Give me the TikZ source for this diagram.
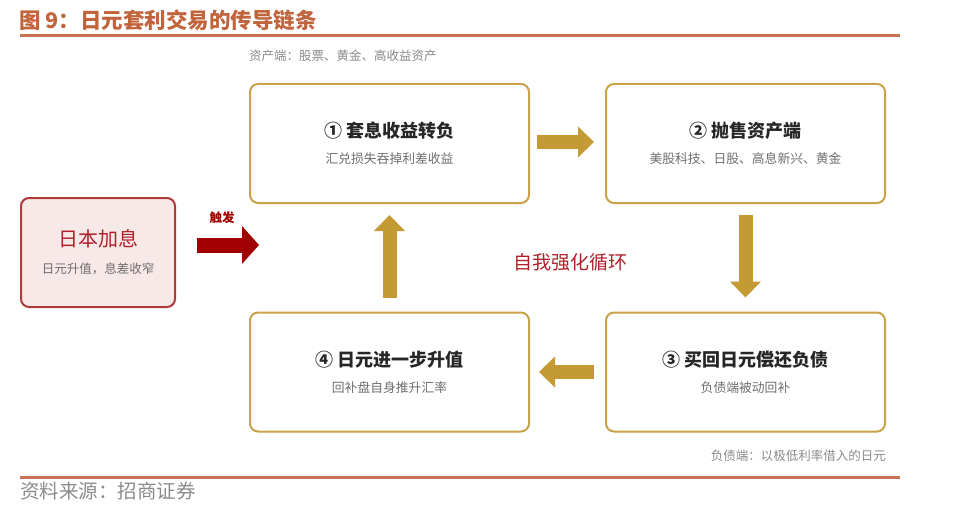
\documentclass[tikz,border=0pt]{standalone}
\usepackage{fontspec}
\setmainfont{Noto Sans CJK SC}
\usetikzlibrary{arrows.meta,
                positioning}
\definecolor{rust}{HTML}{C0643C}
\definecolor{rustline}{HTML}{C8734F}
\definecolor{gold}{HTML}{C9A24A}
\definecolor{goldfill}{HTML}{C49A35}
\definecolor{darkred}{HTML}{A00000}
\definecolor{alarm}{HTML}{B0202A}
\definecolor{pinkfill}{HTML}{F8E9E9}
\definecolor{pinkline}{HTML}{B03A3A}
\definecolor{subgray}{HTML}{6E6E6E}
\definecolor{notegray}{HTML}{8A8A8A}
\newcommand{\steptitle}[1]{{\bfseries\color{black!85}\fontsize{18}{20}\selectfont #1}}
\newcommand{\stepsub}[1]{{\color{subgray}#1}}
\tikzset{block/.style=
   {rectangle,
    draw=gold,
    line width=2pt,
    align=center,
    rounded corners=8pt,
    font=\fontsize{12.8}{26}\selectfont,
    minimum width=279pt,
    minimum height=119pt}}
\tikzset{trigbox/.style=
   {rectangle,
    draw=pinkline,
    fill=pinkfill,
    line width=2pt,
    align=center,
    rounded corners=8pt,
    font=\fontsize{12.5}{27}\selectfont,
    minimum width=154pt,
    minimum height=109pt}}
\tikzset{flow/.style = {draw=goldfill, line width=14pt, line cap=butt,
    -{Triangle[length=16pt,width=31pt,line width=0pt]}}}
\tikzset{trigger/.style = {draw=darkred, line width=15pt, line cap=butt,
    -{Triangle[length=17pt,width=38pt,line width=0pt]}}}
\tikzset{note/.style = {inner sep=0pt, text=notegray, font=\fontsize{12.5}{15}\selectfont}}

\begin{document}
\begin{tikzpicture}[x=1pt, y=-1pt]

    \useasboundingbox (0,0) rectangle (956,516);

    % Heading and rules
    \node [anchor=west, inner sep=0pt, text=rust,
           font=\bfseries\fontsize{21.5}{24}\selectfont] (title) at (19,20)
          {图 9：日元套利交易的传导链条};
    \draw [rustline, line width=3pt] (20,36) -- (900,36);
    \draw [rustline, line width=3pt] (20,477) -- (900,477);
    \node [anchor=west, inner sep=0pt, text=notegray,
           font=\fontsize{19.5}{22}\selectfont] (source) at (20,491)
          {资料来源：招商证券};

    % Place nodes
    \node [block] (carry) at (389.5,143.5)
          {\steptitle{① 套息收益转负}\\\stepsub{汇兑损失吞掉利差收益}};
    \node [block, right of=carry, node distance=356pt] (sell)
          {\steptitle{② 抛售资产端}\\\stepsub{美股科技、日股、高息新兴、黄金}};
    \node [block, below of=sell, node distance=228.5pt] (buyback)
          {\steptitle{③ 买回日元偿还负债}\\\stepsub{负债端被动回补}};
    \node [block, left of=buyback, node distance=356pt] (appreciate)
          {\steptitle{④ 日元进一步升值}\\\stepsub{回补盘自身推升汇率}};
    \node [trigbox] (hike) at (98,252.5)
          {{\color{alarm}\fontsize{20}{24}\selectfont 日本加息}\\\stepsub{日元升值，息差收窄}};

    \node [note, anchor=west] (assets) at ([yshift=27pt]carry.north west)
          {资产端：股票、黄金、高收益资产};
    \node [note, anchor=east] (liabs) at ([yshift=-23pt]buyback.south east)
          {负债端：以极低利率借入的日元};
    \node [text=alarm, font=\fontsize{19}{21}\selectfont] (loop) at (570,262)
          {自我强化循环};

    % Draw edges
    \coordinate (trigtip) at (259,245);
    \path [trigger]
    ([xshift=21pt, yshift=7.5pt] hike.east)
    -- node [above=14pt, xshift=-6pt, inner sep=0pt, text=darkred,
             font=\bfseries\fontsize{12.5}{15}\selectfont] {触发}
    (trigtip);

    \path [flow] ([xshift=7pt, yshift=1.5pt] carry.east)
    -- ([xshift=-11pt, yshift=1.5pt] sell.west);
    \path [flow] ([yshift=-11pt] sell.south)
    -- ([yshift=14pt] buyback.north);
    \path [flow] ([xshift=-11pt] buyback.west)
    -- ([xshift=9pt] appreciate.east);
    \path [flow] ([yshift=14pt] appreciate.north)
    -- ([yshift=-11pt] carry.south);

\end{tikzpicture}
\end{document}
